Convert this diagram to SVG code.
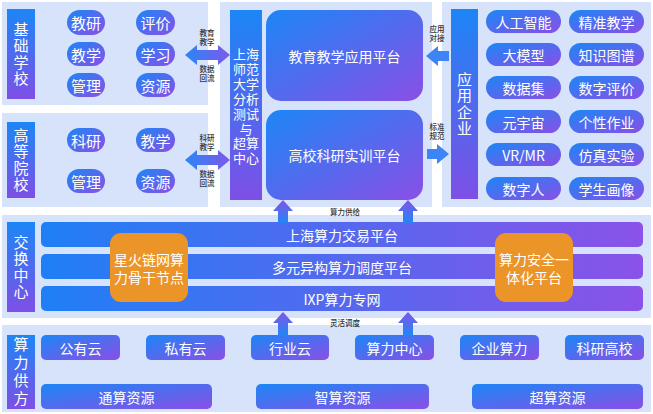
<svg xmlns="http://www.w3.org/2000/svg" width="653" height="414" viewBox="0 0 653 414">
<defs>
<linearGradient id="gDiag" x1="0" y1="0" x2="1" y2="1"><stop offset="0" stop-color="#1c86f6"/><stop offset="1" stop-color="#8a4fe6"/></linearGradient>
<linearGradient id="gVert" x1="0" y1="0" x2="0" y2="1"><stop offset="0" stop-color="#1c86f6"/><stop offset="1" stop-color="#7e4fe6"/></linearGradient>
<linearGradient id="gHorz" x1="0" y1="0" x2="1" y2="0"><stop offset="0" stop-color="#1f7ff6"/><stop offset="1" stop-color="#8a52e8"/></linearGradient>
<linearGradient id="gUp" x1="0" y1="1" x2="0" y2="0"><stop offset="0" stop-color="#2485f6"/><stop offset="1" stop-color="#7f55e8"/></linearGradient>
<linearGradient id="gArr" x1="0" y1="0" x2="1" y2="0"><stop offset="0" stop-color="#2b86f6"/><stop offset="1" stop-color="#7d5ae9"/></linearGradient>
<style>
.panel{fill:#d7e2fb}
.lbl{fill:url(#gVert)}
.pill{fill:url(#gDiag)}
.bar{fill:url(#gHorz)}
.orange{fill:#eb9428}
.t{font-family:"Noto Sans CJK SC","Noto Sans",sans-serif;fill:#fff;text-anchor:middle;dominant-baseline:central}
.v{font-family:"Noto Sans CJK SC","Noto Sans",sans-serif;fill:#fff;text-anchor:middle;font-size:15px;writing-mode:vertical-rl;letter-spacing:1.5px}
.t15{font-size:15px}
.t14{font-size:14px}
.t13{font-size:13px}
.s{font-family:"Noto Sans CJK SC","Noto Sans",sans-serif;font-size:7.5px;fill:#333;text-anchor:middle;dominant-baseline:central;font-weight:500}
</style>
</defs>
<rect width="653" height="414" fill="#ffffff"/>

<!-- panels -->
<g id="panels">
<rect class="panel" x="2" y="2" width="206" height="103"/>
<rect class="panel" x="2" y="113" width="206" height="94"/>
<rect class="panel" x="220" y="2" width="212" height="205"/>
<rect class="panel" x="442" y="2" width="209" height="205"/>
<rect class="panel" x="2" y="215" width="649" height="103"/>
<rect class="panel" x="2" y="325" width="649" height="87"/>
</g>

<!-- 基础学校 -->
<g id="basic-school">
<rect class="lbl" x="7" y="9" width="28" height="90"/>
<text class="v" x="21" y="54.5">基础学校</text>
<rect class="pill" x="67" y="10" width="38" height="25" rx="12.5"/><text class="t t15" x="86" y="22.5">教研</text>
<rect class="pill" x="136" y="10" width="39" height="25" rx="12.5"/><text class="t t15" x="155.5" y="22.5">评价</text>
<rect class="pill" x="67" y="42" width="38" height="24" rx="12"/><text class="t t15" x="86" y="54">教学</text>
<rect class="pill" x="136" y="42" width="39" height="24" rx="12"/><text class="t t15" x="155.5" y="54">学习</text>
<rect class="pill" x="67" y="73" width="38" height="24" rx="12"/><text class="t t15" x="86" y="85">管理</text>
<rect class="pill" x="136" y="73" width="39" height="24" rx="12"/><text class="t t15" x="155.5" y="85">资源</text>
</g>

<!-- 高等院校 -->
<g id="university">
<rect class="lbl" x="7" y="122" width="28" height="76"/>
<text class="v" x="21" y="160.5">高等院校</text>
<rect class="pill" x="67" y="128" width="38" height="24" rx="12"/><text class="t t15" x="86" y="140">科研</text>
<rect class="pill" x="136" y="128" width="39" height="24" rx="12"/><text class="t t15" x="155.5" y="140">教学</text>
<rect class="pill" x="67" y="169" width="38" height="24" rx="12"/><text class="t t15" x="86" y="181">管理</text>
<rect class="pill" x="136" y="169" width="39" height="24" rx="12"/><text class="t t15" x="155.5" y="181">资源</text>
</g>

<!-- 上海师范大学分析测试与超算中心 -->
<g id="shnu-center">
<rect class="lbl" x="230" y="10" width="32" height="190"/>
<text class="t t13"><tspan x="246" y="53">上海</tspan><tspan x="246" y="68">师范</tspan><tspan x="246" y="83">大学</tspan><tspan x="246" y="98">分析</tspan><tspan x="246" y="113">测试</tspan><tspan x="246" y="127.5">与</tspan><tspan x="246" y="142">超算</tspan><tspan x="246" y="156.5">中心</tspan></text>
</g>

<g id="edu-platform">
<rect class="pill" x="266" y="10" width="157" height="91" rx="15"/>
<text class="t t14" x="344.5" y="56">教育教学应用平台</text>
</g>
<g id="research-platform">
<rect class="pill" x="266" y="110" width="157" height="90" rx="15"/>
<text class="t t14" x="344.5" y="155">高校科研实训平台</text>
</g>

<!-- 应用企业 -->
<g id="enterprise">
<rect class="lbl" x="451" y="9" width="27" height="190"/>
<text class="v" x="464.5" y="104.5">应用企业</text>
<rect class="pill" x="486" y="10" width="75" height="23" rx="11.5"/><text class="t t14" x="523.5" y="21.5">人工智能</text>
<rect class="pill" x="569" y="10" width="75" height="23" rx="11.5"/><text class="t t14" x="606.5" y="21.5">精准教学</text>
<rect class="pill" x="486" y="43" width="75" height="23" rx="11.5"/><text class="t t14" x="523.5" y="54.5">大模型</text>
<rect class="pill" x="569" y="43" width="75" height="23" rx="11.5"/><text class="t t14" x="606.5" y="54.5">知识图谱</text>
<rect class="pill" x="486" y="76" width="75" height="23" rx="11.5"/><text class="t t14" x="523.5" y="87.5">数据集</text>
<rect class="pill" x="569" y="76" width="75" height="23" rx="11.5"/><text class="t t14" x="606.5" y="87.5">数字评价</text>
<rect class="pill" x="486" y="110" width="75" height="23" rx="11.5"/><text class="t t14" x="523.5" y="121.5">元宇宙</text>
<rect class="pill" x="569" y="110" width="75" height="23" rx="11.5"/><text class="t t14" x="606.5" y="121.5">个性作业</text>
<rect class="pill" x="486" y="143" width="75" height="23" rx="11.5"/><text class="t t14" x="523.5" y="154.5">VR/MR</text>
<rect class="pill" x="569" y="143" width="75" height="23" rx="11.5"/><text class="t t14" x="606.5" y="154.5">仿真实验</text>
<rect class="pill" x="486" y="177" width="75" height="23" rx="11.5"/><text class="t t14" x="523.5" y="188.5">数字人</text>
<rect class="pill" x="569" y="177" width="75" height="23" rx="11.5"/><text class="t t14" x="606.5" y="188.5">学生画像</text>
</g>

<!-- 交换中心 -->
<g id="exchange">
<rect class="lbl" x="7" y="222" width="28" height="90"/>
<text class="v" x="21" y="267.5">交换中心</text>
<rect class="bar" x="41" y="222" width="602" height="25" rx="5"/><text class="t t14" x="342" y="234.5">上海算力交易平台</text>
<rect class="bar" x="41" y="254" width="602" height="25" rx="5"/><text class="t t14" x="342" y="266.5">多元异构算力调度平台</text>
<rect class="bar" x="41" y="286" width="602" height="25" rx="5"/><text class="t t14" x="342" y="298.5">IXP算力专网</text>
</g>
<g id="xinghuo">
<rect class="orange" x="110" y="233" width="78" height="69" rx="11"/>
<text class="t t14"><tspan x="149" y="259">星火链网算</tspan><tspan x="149" y="277">力骨干节点</tspan></text>
</g>
<g id="security">
<rect class="orange" x="495" y="233" width="78" height="69" rx="11"/>
<text class="t t14"><tspan x="534" y="259">算力安全一</tspan><tspan x="534" y="277">体化平台</tspan></text>
</g>

<!-- 算力供方 -->
<g id="supply">
<rect class="lbl" x="7" y="335" width="28" height="74"/>
<text class="v" x="21" y="372.5" style="letter-spacing:3px">算力供方</text>
<rect class="pill" x="41" y="335" width="79" height="25" rx="5"/><text class="t t14" x="80.5" y="347.5">公有云</text>
<rect class="pill" x="146" y="335" width="79" height="25" rx="5"/><text class="t t14" x="185.5" y="347.5">私有云</text>
<rect class="pill" x="251" y="335" width="78" height="25" rx="5"/><text class="t t14" x="290" y="347.5">行业云</text>
<rect class="pill" x="355" y="335" width="79" height="25" rx="5"/><text class="t t14" x="394.5" y="347.5">算力中心</text>
<rect class="pill" x="460" y="335" width="79" height="25" rx="5"/><text class="t t14" x="499.5" y="347.5">企业算力</text>
<rect class="pill" x="565" y="335" width="79" height="25" rx="5"/><text class="t t14" x="604.5" y="347.5">科研高校</text>
<rect class="pill" x="41" y="384" width="171" height="25" rx="5"/><text class="t t14" x="126.5" y="396.5">通算资源</text>
<rect class="pill" x="256" y="384" width="173" height="25" rx="5"/><text class="t t14" x="342.5" y="396.5">智算资源</text>
<rect class="pill" x="472" y="384" width="171" height="25" rx="5"/><text class="t t14" x="557.5" y="396.5">超算资源</text>
</g>

<!-- connectors -->
<g id="connectors">
<path fill="url(#gArr)" d="M185,55 L197,45 L197,50 L218,50 L218,45 L230,55 L218,65 L218,60 L197,60 L197,65 Z"/>
<path fill="url(#gArr)" d="M185,160 L197,150 L197,155 L218,155 L218,150 L230,160 L218,170 L218,165 L197,165 L197,170 Z"/>
<path fill="#3d84f6" d="M426,56 L438,46 L438,51 L449,51 L449,61 L438,61 L438,66 Z"/>
<path fill="#3d84f6" d="M449,154 L437,144 L437,149 L427,149 L427,159 L437,159 L437,164 Z"/>
<path fill="url(#gUp)" d="M283,200 L293,211 L288,211 L288,223 L278,223 L278,211 L273,211 Z"/>
<path fill="url(#gUp)" d="M408,200 L418,211 L413,211 L413,223 L403,223 L403,211 L398,211 Z"/>
<path fill="url(#gUp)" d="M283,312 L293,323 L288,323 L288,335 L278,335 L278,323 L273,323 Z"/>
<path fill="url(#gUp)" d="M408,312 L418,323 L413,323 L413,335 L403,335 L403,323 L398,323 Z"/>
<text class="s"><tspan x="207" y="32">教育</tspan><tspan x="207" y="41">教学</tspan><tspan x="207" y="68">数据</tspan><tspan x="207" y="77">回流</tspan></text>
<text class="s"><tspan x="207" y="137">科研</tspan><tspan x="207" y="146">教学</tspan><tspan x="207" y="173">数据</tspan><tspan x="207" y="182">回流</tspan></text>
<text class="s"><tspan x="437" y="28">应用</tspan><tspan x="437" y="37">对接</tspan><tspan x="437" y="126">标准</tspan><tspan x="437" y="135">规范</tspan></text>
<text class="s" x="345" y="211.5">算力供给</text>
<text class="s" x="345" y="322">灵活调度</text>
</g>
</svg>
